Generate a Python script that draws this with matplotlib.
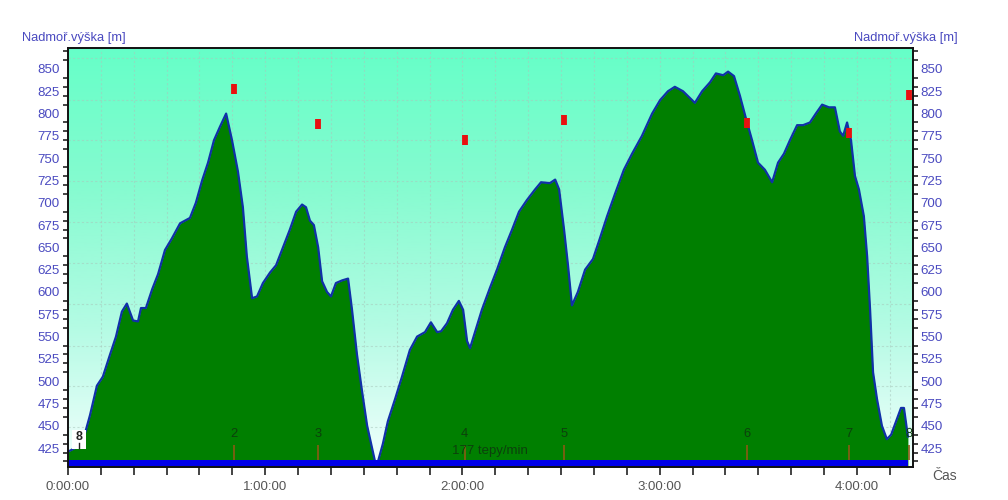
import numpy as np
from matplotlib import pyplot as plt
from matplotlib.colors import LinearSegmentedColormap
from matplotlib.ticker import FixedLocator, FuncFormatter, MultipleLocator

plt.rcParams['font.family'] = ['Liberation Sans', 'DejaVu Sans']

# profile, minutes from start and metres
minutes = [0, 2.1, 4.3, 6.7, 8.8, 10.6, 12.8, 14.6, 16.4, 17.9, 19.8, 21.3, 22.2, 23.7, 25.6, 27.4, 29.5, 31.6,
           34.1, 37.1, 38.9, 40.8, 42.6, 44.4, 46.2, 48.1, 49.9, 51.7, 53.2, 54.4, 56.0, 57.5, 59.3, 61.5, 63.3,
           65.4, 67.5, 69.4, 71.2, 72.4, 73.6, 74.8, 76.1, 77.3, 78.8, 80.0, 81.5, 83.4, 85.2, 86.4, 87.9, 89.4,
           91.0, 92.5, 93.4, 94.3, 95.8, 97.3, 99.5, 101.6, 104.0, 106.2, 108.6, 110.4, 112.3, 113.5, 115.3,
           117.1, 118.9, 120.2, 121.4, 122.3, 123.8, 125.9, 128.4, 130.5, 132.9, 135.1, 137.2, 139.6, 142.1,
           143.9, 146.6, 148.2, 149.4, 150.9, 152.1, 153.3, 155.1, 157.3, 159.7, 161.8, 164.0, 166.4, 169.1,
           171.6, 174.6, 177.7, 180.1, 182.5, 184.6, 187.1, 190.7, 192.9, 195.3, 197.1, 199.3, 200.8, 202.6,
           204.4, 206.2, 208.1, 209.9, 212.0, 214.2, 216.0, 217.8, 219.6, 221.8, 223.6, 225.7, 227.5, 229.4,
           231.5, 233.3, 234.8, 235.8, 237.0, 238.2, 239.4, 240.6, 242.1, 243.1, 244.0, 244.9, 246.1, 247.6,
           249.1, 250.4, 251.9, 253.4, 254.3, 255.5]
elevation = [421, 425, 430, 462, 495, 505, 530, 550, 578, 587, 568, 567, 582, 582, 603, 620, 647, 660,
             677, 683, 700, 725, 745, 770, 785, 800, 770, 735, 695, 640, 593, 595, 610, 622, 630,
             650, 670, 690, 698, 695, 680, 675, 650, 612, 600, 595, 610, 613, 615, 580, 530, 490,
             450, 425, 410, 410, 430, 455, 480, 505, 535, 550, 555, 566, 555, 556, 565,
             580, 590, 580, 545, 537, 555, 580, 605, 625, 650, 670, 690, 703, 715,
             723, 722, 726, 715, 670, 630, 585, 600, 625, 637, 660, 685, 710, 737,
             755, 775, 800, 815, 825, 830, 825, 812, 825, 835, 845, 843, 847, 842,
             820, 795, 770, 745, 737, 723, 745, 755, 770, 787, 787, 790, 800, 810,
             807, 807, 780, 775, 790, 770, 730, 715, 685, 640, 580, 510, 480, 450,
             435, 440, 455, 470, 470, 438]

# laps
lap_minutes = [50.5, 76.0, 120.7, 151.0, 206.5, 237.5, 255.8]
lap_labels = ['2', '3', '4', '5', '6', '7', '8']
lap_elevation = [828, 788, 770, 793, 789, 778, 821]

y_grid = [861.8, 815.2, 770.4, 724.4, 678.5, 632.5, 586.5, 539.5, 494.6, 448.7]
heart_text = '177 tepy/min'

W, H = 1008, 500
x_left, x_right, y_top, y_bottom = 68, 912.5, 48, 467
x_max = 256.9
y_min, y_max = 403.8, 873.5
band_top = 411.5

blue_text = '#4a4ac0'
grey_text = '#555555'
green = '#007f00'
mark_text = '#0c400c'

fig = plt.figure(figsize=(W / 100, H / 100), dpi=100, facecolor='white')
ax = fig.add_axes([x_left / W, 1 - y_bottom / H, (x_right - x_left) / W, (y_bottom - y_top) / H])

# background gradient
cmap = LinearSegmentedColormap.from_list('bg', ['#66ffc8', '#86fbd0', '#b4fbe4', '#f2fffd'])
ax.imshow(np.linspace(0, 1, 256).reshape(-1, 1), cmap=cmap, aspect='auto', extent=(0, 1, 0, 1),
          transform=ax.transAxes, zorder=0)
ax.set_xlim(0, x_max)
ax.set_ylim(y_min, y_max)

for g in y_grid:
    ax.axhline(g, color='#a8c8bc', lw=0.8, ls=(0, (2, 2)), alpha=0.55, zorder=1)
for m in range(10, 260, 10):
    ax.axvline(m, color='#a8c8bc', lw=0.8, ls=(0, (2, 2)), alpha=0.55, zorder=1)

ax.fill_between(minutes, y_min, elevation, color=green, lw=0, zorder=2)
ax.plot(minutes, elevation, color='#1030a8', lw=1.6, zorder=3)
ax.fill_between([0, minutes[-1]], y_min, band_top, color='#0000e8', lw=0, zorder=4)

# lap marks
ax.vlines(lap_minutes, band_top, 428, color='#8a5a14', lw=1.2, zorder=3)
ax.plot(lap_minutes, lap_elevation, ls='none', marker='|', color='#e81010', ms=7, mew=4.2,
        zorder=5, clip_on=False)
for m, lab in zip(lap_minutes, lap_labels):
    ax.text(m, 441, lab, ha='center', va='center', fontsize=9.3, color=mark_text, zorder=5)
ax.text(116.8, 422, heart_text, ha='left', va='center', fontsize=9.5, color=mark_text, zorder=5)

# start flag
ax.fill_between([1.2, 5.6], 424, 445, color='white', lw=0, zorder=6)
ax.text(3.3, 437, '8', ha='center', va='center', fontsize=9, fontweight='bold', color='#222222', zorder=7)
ax.plot([3.3, 3.3], [425, 431], color='#222222', lw=1, zorder=7)

# x axis
ax.xaxis.set_major_locator(MultipleLocator(60))
ax.xaxis.set_minor_locator(MultipleLocator(10))
ax.xaxis.set_major_formatter(FuncFormatter(lambda v, pos: f'{int(v // 60)}:00:00'))
ax.tick_params(axis='x', which='both', length=5.4, width=1.1, color='#111111')
ax.tick_params(axis='x', which='major', labelsize=9.5, labelcolor=grey_text, pad=4.5)

# y axis, both sides
ax.yaxis.set_major_locator(FixedLocator(list(range(425, 875, 25))))
ax.yaxis.set_minor_locator(MultipleLocator(10))
ax.tick_params(axis='y', which='major', length=0, labelsize=9.6, labelcolor=blue_text, pad=5.8,
               left=True, right=True, labelleft=True, labelright=True)
ax.tick_params(axis='y', which='minor', length=3.6, width=1.1, color='#111111', left=True, right=True)

for side in ax.spines.values():
    side.set_linewidth(1.4)
    side.set_color('#111111')
    side.set_zorder(8)

fig.text(22 / W, 1 - 37.5 / H, 'Nadmoř.výška [m]', ha='left', va='center', fontsize=9.3, color=blue_text)
fig.text(958 / W, 1 - 37.5 / H, 'Nadmoř.výška [m]', ha='right', va='center', fontsize=9.3, color=blue_text)
fig.text(932.5 / W, 1 - 476 / H, 'Čas', ha='left', va='center', fontsize=10, color=grey_text)

fig.savefig('out.png', dpi=100)
